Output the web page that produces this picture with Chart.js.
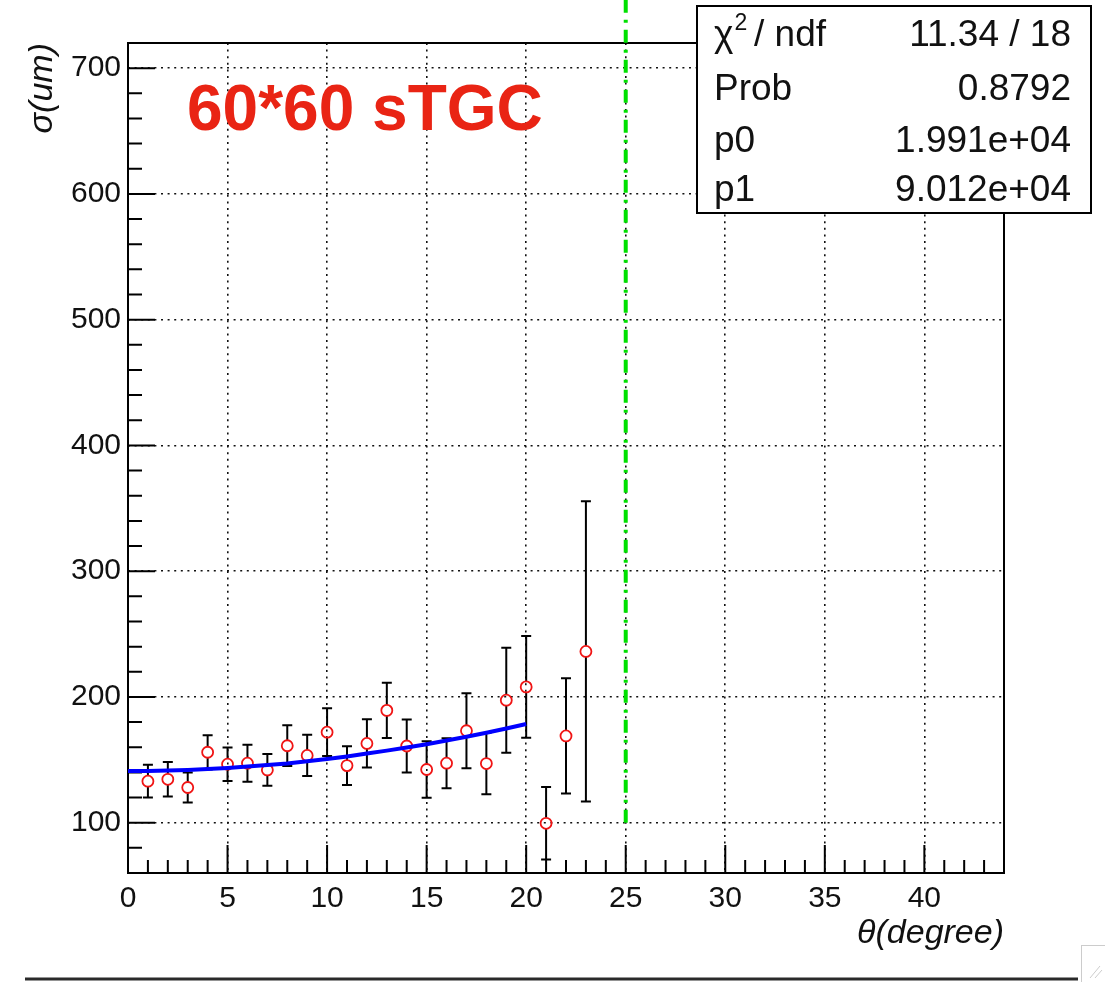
<!DOCTYPE html>
<html>
<head>
<meta charset="utf-8">
<script src="https://cdn.jsdelivr.net/npm/chart.js@4.4.1/dist/chart.umd.min.js"></script>
<style>
  html, body { margin: 0; padding: 0; background: #fff; }
  canvas { display: block; }
</style>
</head>
<body>
<canvas class="sigma-chart" width="1105" height="982"></canvas>
<script>
const thetaDeg = [1, 2, 3, 4, 5, 6, 7, 8, 9, 10, 11, 12, 13, 14, 15, 16, 17, 18, 19, 20, 21, 22, 23];
const sigmaUm = [133, 134.5, 128, 156, 146.5, 147.3, 142, 161.2, 153.5, 172, 145.4, 163, 189.3, 161,
    142.3, 147.3, 173.1, 147, 197.4, 208, 99.5, 169, 236.2];
const sigmaErr = [13, 13.7, 12, 13.6, 13.3, 14.7, 12.7, 16.2, 16.4, 19, 15.4, 19.2, 21.9, 21,
    22.4, 19.9, 29.8, 24.3, 41.7, 40.4, 28.8, 45.8, 119.4];

// fit curve as drawn (0..20 deg)
const fitTheta = [0, 1, 2, 3, 4, 5, 6, 7, 8, 9, 10, 11, 12, 13, 14, 15, 16, 17, 18, 19, 20];
const fitSigma = [141.1, 141.2, 141.5, 142.0, 142.7, 143.5, 144.6, 145.9, 147.1, 148.9, 150.7,
    152.7, 155.0, 157.3, 159.8, 162.4, 165.3, 168.3, 171.5, 174.9, 178.5];

const cutTheta = [25, 25];
const cutSigma = [100, 760];

const xTicks = [0, 5, 10, 15, 20, 25, 30, 35, 40];
const yTicks = [100, 200, 300, 400, 500, 600, 700];

const statNames = ['χ', 'Prob', 'p0', 'p1'];
const statValues = ['11.34 / 18', '0.8792', '1.991e+04', '9.012e+04'];
const plotLabel = '60*60 sTGC';

const ctx = document.querySelector('.sigma-chart');
const family = "'Liberation Sans', Arial, Helvetica, sans-serif";

const rootFrame = {
    id: 'rootFrame',
    beforeDatasetsDraw(chart) {
        const c = chart.ctx;
        const a = chart.chartArea;
        const x = chart.scales.x;
        const y = chart.scales.y;
        c.save();
        c.strokeStyle = '#000';
        c.lineWidth = 2;
        c.strokeRect(a.left, a.top, a.right - a.left, a.bottom - a.top);

        // inward ticks
        c.beginPath();
        for (let v = 0; v < x.max; v++) {
            const px = x.getPixelForValue(v);
            const len = v % 5 === 0 ? 28 : 13;
            c.moveTo(px, a.bottom);
            c.lineTo(px, a.bottom - len);
        }
        for (let v = 80; v < y.max; v += 20) {
            const py = y.getPixelForValue(v);
            const len = v % 100 === 0 ? 27 : 14;
            c.moveTo(a.left, py);
            c.lineTo(a.left + len, py);
        }
        c.stroke();

        // error bars
        const r = 5.5;
        c.lineWidth = 2;
        c.beginPath();
        for (let i = 0; i < thetaDeg.length; i++) {
            const px = x.getPixelForValue(thetaDeg[i]);
            const pc = y.getPixelForValue(sigmaUm[i]);
            const pt = y.getPixelForValue(sigmaUm[i] + sigmaErr[i]);
            const pb = y.getPixelForValue(sigmaUm[i] - sigmaErr[i]);
            c.moveTo(px, pt);
            c.lineTo(px, pc - r);
            c.moveTo(px, pc + r);
            c.lineTo(px, pb);
            c.moveTo(px - 5, pt);
            c.lineTo(px + 5, pt);
            c.moveTo(px - 5, pb);
            c.lineTo(px + 5, pb);
        }
        c.stroke();
        c.restore();
    },
    afterDraw(chart) {
        const c = chart.ctx;
        c.save();

        // label
        c.fillStyle = 'rgb(233, 36, 20)';
        c.font = 'bold 64px ' + family;
        c.textBaseline = 'alphabetic';
        c.fillText(plotLabel, 187, 130);

        // fit statistics box
        c.fillStyle = '#fff';
        c.fillRect(697, 6, 394, 207);
        c.strokeStyle = '#000';
        c.lineWidth = 2;
        c.strokeRect(697, 6, 394, 207);
        const base = [46, 100, 152, 201];
        c.fillStyle = '#111';
        for (let i = 0; i < statNames.length; i++) {
            c.font = '37px ' + family;
            c.textAlign = 'left';
            c.fillText(statNames[i], 714, base[i]);
            if (i === 0) {
                const w = c.measureText(statNames[i]).width;
                c.font = '23px ' + family;
                c.fillText('2', 714 + w + 1, base[i] - 16);
                c.font = '37px ' + family;
                c.fillText('/ ndf', 754, base[i]);
            }
            c.textAlign = 'right';
            c.fillText(statValues[i], 1071, base[i]);
        }

        // window edge
        c.strokeStyle = '#2a2a2a';
        c.lineWidth = 3;
        c.beginPath();
        c.moveTo(25, 979);
        c.lineTo(1078, 979);
        c.stroke();
        c.strokeStyle = '#ccc';
        c.lineWidth = 1;
        c.strokeRect(1081.5, 945.5, 30, 40);
        c.beginPath();
        c.moveTo(1090, 978); c.lineTo(1100, 966);
        c.moveTo(1095, 978); c.lineTo(1102, 970);
        c.stroke();
        c.restore();
    }
};

const data = {
    datasets: [{
        label: 'fit',
        data: fitTheta.map((t, i) => ({x: t, y: fitSigma[i]})),
        showLine: true,
        borderColor: '#0000ff',
        borderWidth: 4,
        pointRadius: 0,
        order: 0,
    }, {
        label: 'sigma',
        data: thetaDeg.map((t, i) => ({x: t, y: sigmaUm[i]})),
        showLine: false,
        pointStyle: 'circle',
        pointRadius: 5.5,
        pointBorderWidth: 1.8,
        pointBorderColor: 'rgb(240, 20, 20)',
        pointBackgroundColor: 'rgba(0, 0, 0, 0)',
        order: 1,
    }, {
        label: 'cut',
        data: cutTheta.map((t, i) => ({x: t, y: cutSigma[i]})),
        showLine: true,
        borderColor: '#00e000',
        borderWidth: 4,
        borderDash: [13, 7, 3, 7],
        pointRadius: 0,
        clip: false,
        order: 2,
    }]
};

const options = {
    responsive: false,
    animation: false,
    events: [],
    layout: {
        padding: {top: 43, right: 101, bottom: 0, left: 0}
    },
    plugins: {
        legend: {display: false},
        tooltip: {enabled: false},
    },
    scales: {
        x: {
            type: 'linear',
            min: 0,
            max: 44,
            afterBuildTicks: (s) => { s.ticks = xTicks.map(v => ({value: v})); },
            afterFit: (s) => { s.height = 109; },
            grid: {color: '#111', lineWidth: 1.6, drawTicks: false},
            border: {display: false, dash: [2, 4.6]},
            ticks: {
                color: '#111',
                padding: 8,
                maxRotation: 0,
                font: {family: family, size: 30},
            },
            title: {
                display: true,
                text: 'θ(degree)',
                align: 'end',
                color: '#111',
                padding: {top: 0, bottom: 28},
                font: {family: family, size: 34, style: 'italic'},
            }
        },
        y: {
            type: 'linear',
            min: 60,
            max: 720,
            afterBuildTicks: (s) => { s.ticks = yTicks.map(v => ({value: v})); },
            afterFit: (s) => { s.width = 128; },
            grid: {color: '#111', lineWidth: 1.6, drawTicks: false},
            border: {display: false, dash: [2, 4.6]},
            ticks: {
                color: '#111',
                padding: 7,
                font: {family: family, size: 30},
            },
            title: {
                display: true,
                text: 'σ(um)',
                align: 'end',
                color: '#111',
                padding: {top: 22, bottom: 0},
                font: {family: family, size: 34, style: 'italic'},
            }
        }
    }
};

const config = {
    type: 'scatter',
    data: data,
    options: options,
    plugins: [rootFrame],
};

const sigmaChart = new Chart(ctx, config);
</script>
</body>
</html>
